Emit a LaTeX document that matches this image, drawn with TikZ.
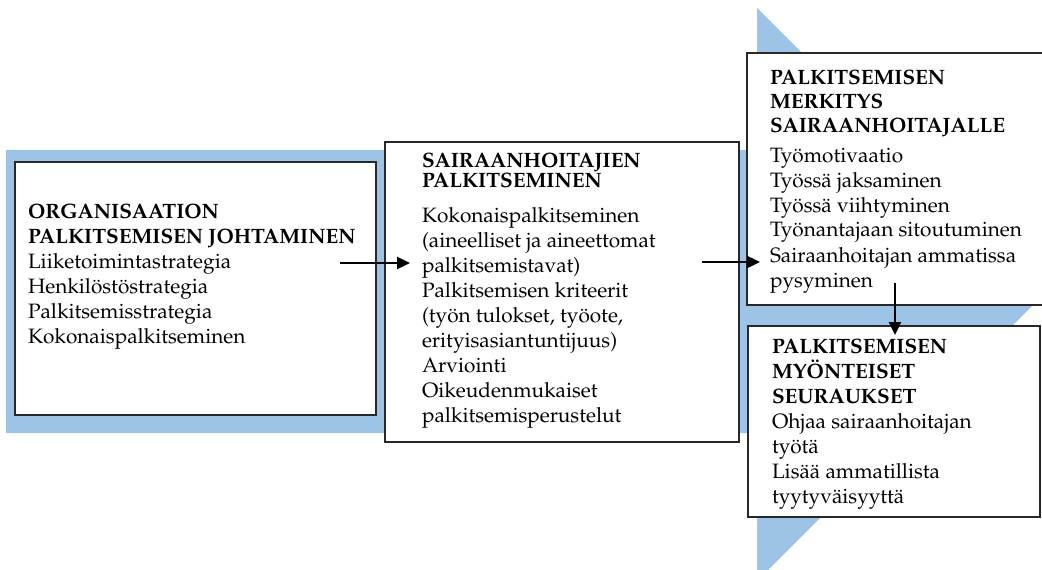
\documentclass[tikz,border=0pt]{standalone}
\usepackage[T1]{fontenc}
\usepackage{mathpazo}
\usetikzlibrary{arrows.meta}
\definecolor{bandblue}{RGB}{157,195,230}
\definecolor{edge}{RGB}{40,40,40}
\tikzset{
  box/.style={draw=edge, line width=1.4pt, fill=white, inner sep=0pt, outer sep=0pt, anchor=north west},
  txt/.style={anchor=base west, inner sep=0pt, outer sep=0pt, font=\fontsize{20.8}{25}\selectfont},
  flow/.style={line width=2.4pt, -{Triangle[length=13pt,width=12pt]}},
}
\newcommand{\col}[2]{\parbox[t]{#1}{\setlength{\baselineskip}{25pt}\raggedright #2}}
\begin{document}
\begin{tikzpicture}[x=1pt,y=-1pt]
  \useasboundingbox (0,0) rectangle (1042,570);
  \clip (0,0) rectangle (1042,570);
  % broad background arrow
  \fill[bandblue] (6,150) -- (757,150) -- (757,8) -- (1044,294) -- (757,581) -- (757,433) -- (6,433) -- cycle;

  % boxes
  \node[box, minimum width=361pt, minimum height=253pt] (b1) at (15,162) {};
  \node[box, minimum width=354pt, minimum height=300pt] (b2) at (385,142) {};
  \node[box, minimum width=305pt, minimum height=252pt] (b3) at (747,53) {};
  \node[box, minimum width=292pt, minimum height=191pt] (b4) at (748,326) {};

  % texts
  \node[txt] (t1) at (28,218) {\col{345pt}{%
    \textbf{ORGANISAATION}\\
    \textbf{PALKITSEMISEN\ JOHTAMINEN}\\
    Liiketoimintastrategia\\
    Henkilöstöstrategia\\
    Palkitsemisstrategia\\
    Kokonaispalkitseminen}};
  \node[txt] (t2) at (422,167) {\col{315pt}{%
    \textbf{SAIRAANHOITAJIEN}\\[-5pt]
    \textbf{PALKITSEMINEN}\\[10pt]
    Kokonaispalkitseminen\\
    (aineelliset ja aineettomat\\
    palkitsemistavat)\\
    Palkitsemisen\ kriteerit\\
    (työn tulokset, työote,\\
    erityisasiantuntijuus)\\
    Arviointi\\
    Oikeudenmukaiset\\
    palkitsemisperustelut}};
  \node[txt] (t3) at (770,84) {\col{270pt}{%
    \textbf{PALKITSEMISEN}\\[-1pt]
    \textbf{MERKITYS}\\[-1pt]
    \textbf{SAIRAANHOITAJALLE}\\[5pt]
    Työmotivaatio\\
    Työssä jaksaminen\\
    Työssä viihtyminen\\
    Työnantajaan\ sitoutuminen\\
    Sairaanhoitajan ammatissa\\
    pysyminen}};
  \node[txt] (t4) at (772,353) {\col{265pt}{%
    \textbf{PALKITSEMISEN}\\
    \textbf{MYÖNTEISET}\\
    \textbf{SEURAUKSET}\\
    Ohjaa sairaanhoitajan\\
    työtä\\
    Lisää ammatillista\\
    tyytyväisyyttä}};

  % connectors
  \draw[flow] ([xshift=-36pt,yshift=25.5pt]b1.east) -- ([xshift=25pt,yshift=29pt]b2.west);
  \draw[flow] ([xshift=-37pt,yshift=30pt]b2.east) -- ([xshift=13pt,yshift=-83pt]b3.west);
  \draw[flow] ([xshift=-4.5pt,yshift=22pt]b3.south) -- ([xshift=1pt,yshift=-9pt]b4.north);
\end{tikzpicture}
\end{document}
